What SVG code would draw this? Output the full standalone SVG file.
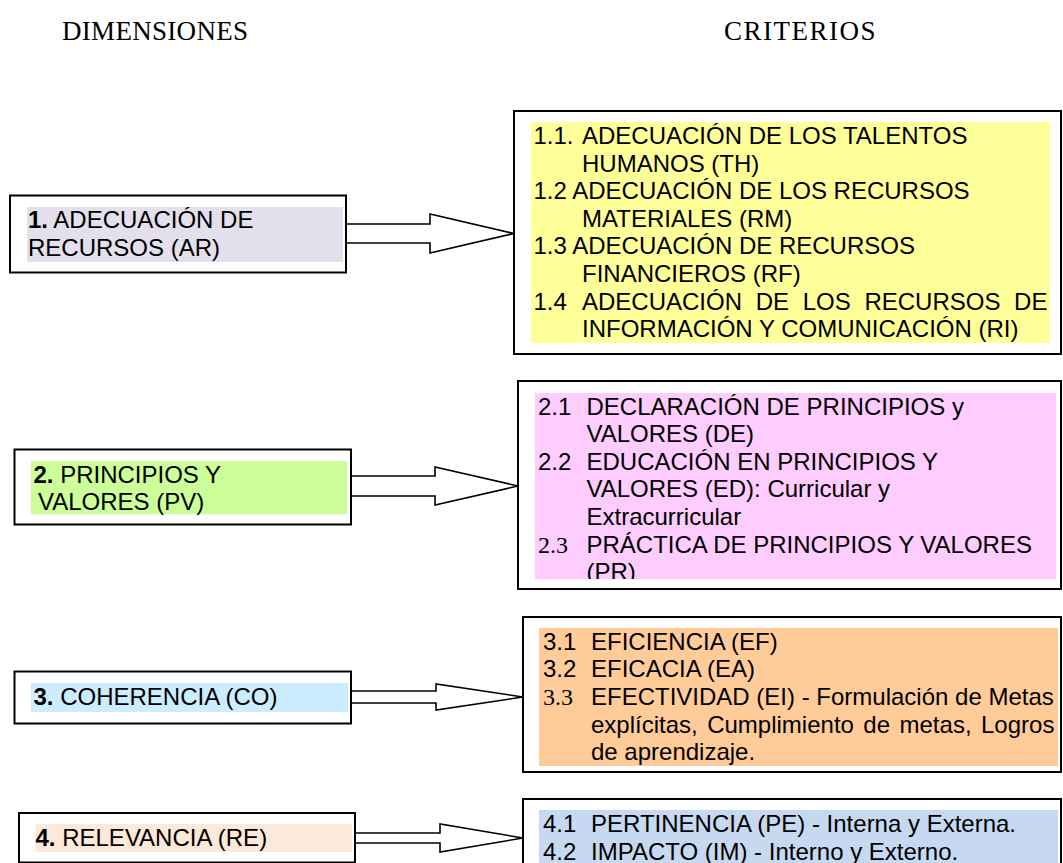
<svg xmlns="http://www.w3.org/2000/svg" width="1063" height="863" viewBox="0 0 1063 863">
<style>
.box{fill:#fff;stroke:#000;stroke-width:2}
.t{font-family:"Liberation Sans",Arial,sans-serif;font-size:24px;fill:#000}
.s{font-family:"Liberation Serif","Times New Roman",serif;font-size:24px;fill:#000}
.h{font-family:"Liberation Serif","Times New Roman",serif;font-size:27px;fill:#000}
.b{font-weight:bold}
.arrow{fill:#fff;stroke:#000;stroke-width:1.6;stroke-linejoin:miter}
</style>
<defs>
<clipPath id="clipPink"><rect x="535" y="393" width="521" height="186"/></clipPath>
</defs>
<rect width="1063" height="863" fill="#fff"/>
<g id="headers">
<text class="h" x="62" y="40" letter-spacing="0.3">DIMENSIONES</text>
<text class="h" x="724" y="40" letter-spacing="1.5">CRITERIOS</text>
</g>
<g id="connectors">
<path class="arrow" d="M346,224 L430,224 L430,214 L514,233.5 L430,253 L430,243 L346,243"/>
<path class="arrow" d="M351,476 L435,476 L435,467 L518,486 L435,505 L435,496 L351,496"/>
<path class="arrow" d="M351,691 L436,691 L436,684 L523,697 L436,710 L436,703 L351,703"/>
<path class="arrow" d="M355,833 L440,833 L440,824 L523,838 L440,852 L440,843 L355,843"/>
</g>
<g id="dim1">
<rect class="box" x="10" y="195.5" width="336" height="77"/>
<rect x="27" y="207" width="316" height="55" fill="#E4DFEC"/>
<text class="t" x="28" y="228"><tspan class="b">1.</tspan> ADECUACIÓN DE</text>
<text class="t" x="28" y="256">RECURSOS (AR)</text>
</g>
<g id="dim2">
<rect class="box" x="14.5" y="449.5" width="336.5" height="75"/>
<rect x="31" y="461" width="316" height="53" fill="#CCFF99"/>
<text class="t" x="33.5" y="483"><tspan class="b">2.</tspan> PRINCIPIOS Y</text>
<text class="t" x="38" y="510">VALORES (PV)</text>
</g>
<g id="dim3">
<rect class="box" x="14.5" y="671.5" width="336.5" height="52"/>
<rect x="31" y="683" width="317" height="29" fill="#CCECFF"/>
<text class="t" x="33.5" y="705"><tspan class="b">3.</tspan> COHERENCIA (CO)</text>
</g>
<g id="dim4">
<rect class="box" x="19" y="813" width="336" height="49.5"/>
<rect x="35.5" y="824" width="316.5" height="28" fill="#FDE9D9"/>
<text class="t" x="35.5" y="845.5"><tspan class="b">4.</tspan> RELEVANCIA (RE)</text>
</g>
<g id="crit1">
<rect class="box" x="514" y="111" width="547" height="243"/>
<rect x="531" y="122" width="519" height="221" fill="#FFFF99"/>
<text class="t" x="533.5" y="144">1.1.</text>
<text class="t" x="582" y="144">ADECUACIÓN DE LOS TALENTOS</text>
<text class="t" x="582" y="171.6">HUMANOS (TH)</text>
<text class="t" x="533.5" y="199.2">1.2 ADECUACIÓN DE LOS RECURSOS</text>
<text class="t" x="582" y="226.8">MATERIALES (RM)</text>
<text class="t" x="533.5" y="254.4">1.3 ADECUACIÓN DE RECURSOS</text>
<text class="t" x="582" y="282">FINANCIEROS (RF)</text>
<text class="t" x="533.5" y="309.6">1.4</text>
<text class="t" x="582" y="309.6" word-spacing="7">ADECUACIÓN DE LOS RECURSOS DE</text>
<text class="t" x="582" y="337.2">INFORMACIÓN Y COMUNICACIÓN (RI)</text>
</g>
<g id="crit2">
<rect class="box" x="518" y="381" width="543" height="208"/>
<rect x="535" y="393" width="521" height="186" fill="#FFCCFF"/>
<g clip-path="url(#clipPink)">
<text class="t" x="538" y="414.5">2.1</text>
<text class="t" x="586.5" y="414.5">DECLARACIÓN DE PRINCIPIOS y</text>
<text class="t" x="586.5" y="442.1">VALORES (DE)</text>
<text class="t" x="538" y="469.7">2.2</text>
<text class="t" x="586.5" y="469.7">EDUCACIÓN EN PRINCIPIOS Y</text>
<text class="t" x="586.5" y="497.3">VALORES (ED): Curricular y</text>
<text class="t" x="586.5" y="524.9">Extracurricular</text>
<text class="s" x="538" y="552.5">2.3</text>
<text class="t" x="586.5" y="552.5">PRÁCTICA DE PRINCIPIOS Y VALORES</text>
<text class="t" x="586.5" y="580.1">(PR)</text>
</g>
</g>
<g id="crit3">
<rect class="box" x="523" y="617" width="538" height="155"/>
<rect x="539" y="628" width="519" height="138" fill="#FFCC99"/>
<text class="t" x="543" y="649.7">3.1</text>
<text class="t" x="591" y="649.7">EFICIENCIA (EF)</text>
<text class="t" x="543" y="677.3">3.2</text>
<text class="t" x="591" y="677.3">EFICACIA (EA)</text>
<text class="s" x="543" y="704.9">3.3</text>
<text class="t" x="591" y="704.9">EFECTIVIDAD (EI) - Formulación de Metas</text>
<text class="t" x="591" y="732.5" word-spacing="2.8">explícitas, Cumplimiento de metas, Logros</text>
<text class="t" x="591" y="760.1">de aprendizaje.</text>
</g>
<g id="crit4">
<rect class="box" x="523" y="799" width="538" height="100"/>
<rect x="539" y="810" width="519" height="70" fill="#C6D9F1"/>
<text class="t" x="543" y="832">4.1</text>
<text class="t" x="591" y="832">PERTINENCIA (PE) - Interna y Externa.</text>
<text class="t" x="543" y="859.6">4.2</text>
<text class="t" x="591" y="859.6">IMPACTO (IM) - Interno y Externo.</text>
</g>
</svg>
